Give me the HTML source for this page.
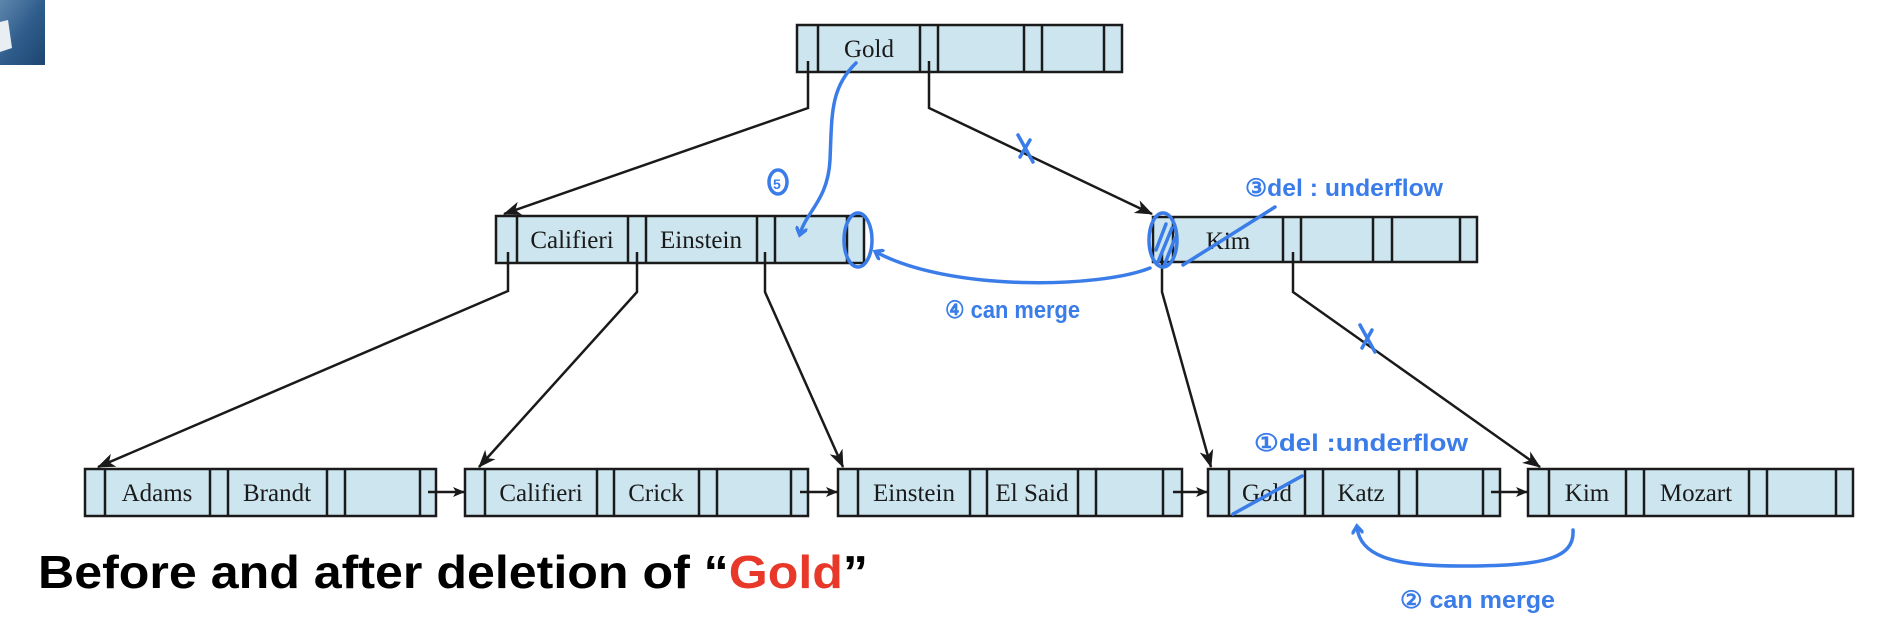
<!DOCTYPE html>
<html><head><meta charset="utf-8"><style>html,body{margin:0;padding:0;background:#fff}svg{display:block}</style></head>
<body>
<svg width="1900" height="636" viewBox="0 0 1900 636" xmlns="http://www.w3.org/2000/svg">
<defs>
<linearGradient id="sea" x1="0" y1="0" x2="1" y2="1"><stop offset="0" stop-color="#5f87ad"/><stop offset="0.5" stop-color="#2f5d8c"/><stop offset="1" stop-color="#1d4670"/></linearGradient>
<marker id="ah" markerWidth="18" markerHeight="14" refX="17" refY="7" orient="auto" markerUnits="userSpaceOnUse"><path d="M0,0 L18,7 L0,14 L5,7 z" fill="#1a1a1a"/></marker>
<marker id="sh" markerWidth="12" markerHeight="10" refX="11" refY="5" orient="auto" markerUnits="userSpaceOnUse"><path d="M0,0 L12,5 L0,10 L3,5 z" fill="#1a1a1a"/></marker>
<marker id="bh" markerWidth="14" markerHeight="12" refX="7" refY="6" orient="auto" markerUnits="userSpaceOnUse"><path d="M0,0 L8,6 L0,12" fill="none" stroke="#3a7ce8" stroke-width="3.5" stroke-linecap="round"/></marker>
</defs>
<rect x="0" y="0" width="45" height="65" fill="url(#sea)"/>
<path d="M0,22 L8,20 L12,48 L0,52 z" fill="#e8eef2"/>
<g fill="#cce5ef" stroke="#1a1a1a" stroke-width="2.5">
<rect x="797" y="25" width="325" height="47"/>
<rect x="496" y="216" width="368" height="47"/>
<rect x="1153" y="217" width="324" height="45"/>
<rect x="85" y="469" width="351" height="47"/>
<rect x="465" y="469" width="343" height="47"/>
<rect x="838" y="469" width="344" height="47"/>
<rect x="1208" y="469" width="292" height="47"/>
<rect x="1528" y="469" width="325" height="47"/>
</g>
<g stroke="#1a1a1a" stroke-width="2.5">
<path d="M818,25V72M920,25V72M938,25V72M1024,25V72M1042,25V72M1104,25V72"/>
<path d="M517,216V263M628,216V263M646,216V263M757,216V263M775,216V263M847,216V263"/>
<path d="M1173,217V262M1283,217V262M1301,217V262M1373,217V262M1392,217V262M1460,217V262"/>
<path d="M105,469V516M210,469V516M228,469V516M327,469V516M345,469V516M420,469V516"/>
<path d="M485,469V516M597,469V516M614,469V516M699,469V516M717,469V516M791,469V516"/>
<path d="M858,469V516M970,469V516M987,469V516M1078,469V516M1096,469V516M1163,469V516"/>
<path d="M1229,469V516M1305,469V516M1323,469V516M1399,469V516M1417,469V516M1483,469V516"/>
<path d="M1549,469V516M1626,469V516M1644,469V516M1749,469V516M1767,469V516M1836,469V516"/>
</g>
<g fill="none" stroke="#1a1a1a" stroke-width="2.5" marker-end="url(#ah)">
<path d="M808,61V108L504,214"/>
<path d="M929,61V108L1152,214"/>
<path d="M508,252V291L98,467"/>
<path d="M637,252V292L479,467"/>
<path d="M765,252V292L843,467"/>
<path d="M1162,252V292L1211,467"/>
<path d="M1293,252V292L1540,467"/>
</g>
<g fill="none" stroke="#1a1a1a" stroke-width="2.5" marker-end="url(#sh)">
<path d="M428,492H464"/>
<path d="M800,492H837"/>
<path d="M1173,492H1207"/>
<path d="M1491,492H1527"/>
</g>
<g font-family="Liberation Serif, serif" font-size="25" fill="#1a1a1a" text-anchor="middle">
<text x="869" y="57">Gold</text>
<text x="572" y="248">Califieri</text>
<text x="701" y="248">Einstein</text>
<text x="1228" y="249">Kim</text>
<text x="157" y="501">Adams</text>
<text x="277" y="501">Brandt</text>
<text x="541" y="501">Califieri</text>
<text x="656" y="501">Crick</text>
<text x="914" y="501">Einstein</text>
<text x="1032" y="501">El Said</text>
<text x="1267" y="501">Gold</text>
<text x="1361" y="501">Katz</text>
<text x="1587" y="501">Kim</text>
<text x="1696" y="501">Mozart</text>
</g>
<g fill="none" stroke="#3a7ce8" stroke-width="3.5" stroke-linecap="round">
<path d="M856,63C830,88 832,115 830,160C828,200 806,212 800,234" marker-end="url(#bh)"/>
<ellipse cx="858" cy="240" rx="14" ry="27"/>
<ellipse cx="1163" cy="240" rx="14" ry="27"/>
<path d="M1156,250L1166,224M1158,262L1172,228M1164,266L1175,238"/>
<path d="M1150,268C1100,288 950,292 876,252" marker-end="url(#bh)"/>
<path d="M1183,265L1275,207"/>
<path d="M1018,135L1033,162M1020,157L1030,140"/>
<path d="M1360,325L1375,352M1362,348L1372,330"/>
<path d="M1233,514L1302,476"/>
<path d="M1573,530C1575,560 1540,566 1460,566C1390,566 1360,555 1357,527" marker-end="url(#bh)"/>
<ellipse cx="778" cy="182" rx="9" ry="12"/>
</g>
<g font-family="Liberation Sans, sans-serif" fill="#3a7ce8" font-size="24" font-weight="bold">
<text x="1245" y="196" textLength="198" lengthAdjust="spacingAndGlyphs">③del : underflow</text>
<text x="945" y="318" textLength="135" lengthAdjust="spacingAndGlyphs">④ can merge</text>
<text x="773" y="189" font-size="14">5</text>
<text x="1254" y="451" textLength="214" lengthAdjust="spacingAndGlyphs">①del :underflow</text>
<text x="1400" y="608" textLength="155" lengthAdjust="spacingAndGlyphs">② can merge</text>
</g>
<text x="38" y="588" font-family="Liberation Sans, sans-serif" font-weight="bold" font-size="46" fill="#000" textLength="830" lengthAdjust="spacingAndGlyphs">Before and after deletion of “<tspan fill="#e8382a">Gold</tspan>”</text>
</svg>
</body></html>
